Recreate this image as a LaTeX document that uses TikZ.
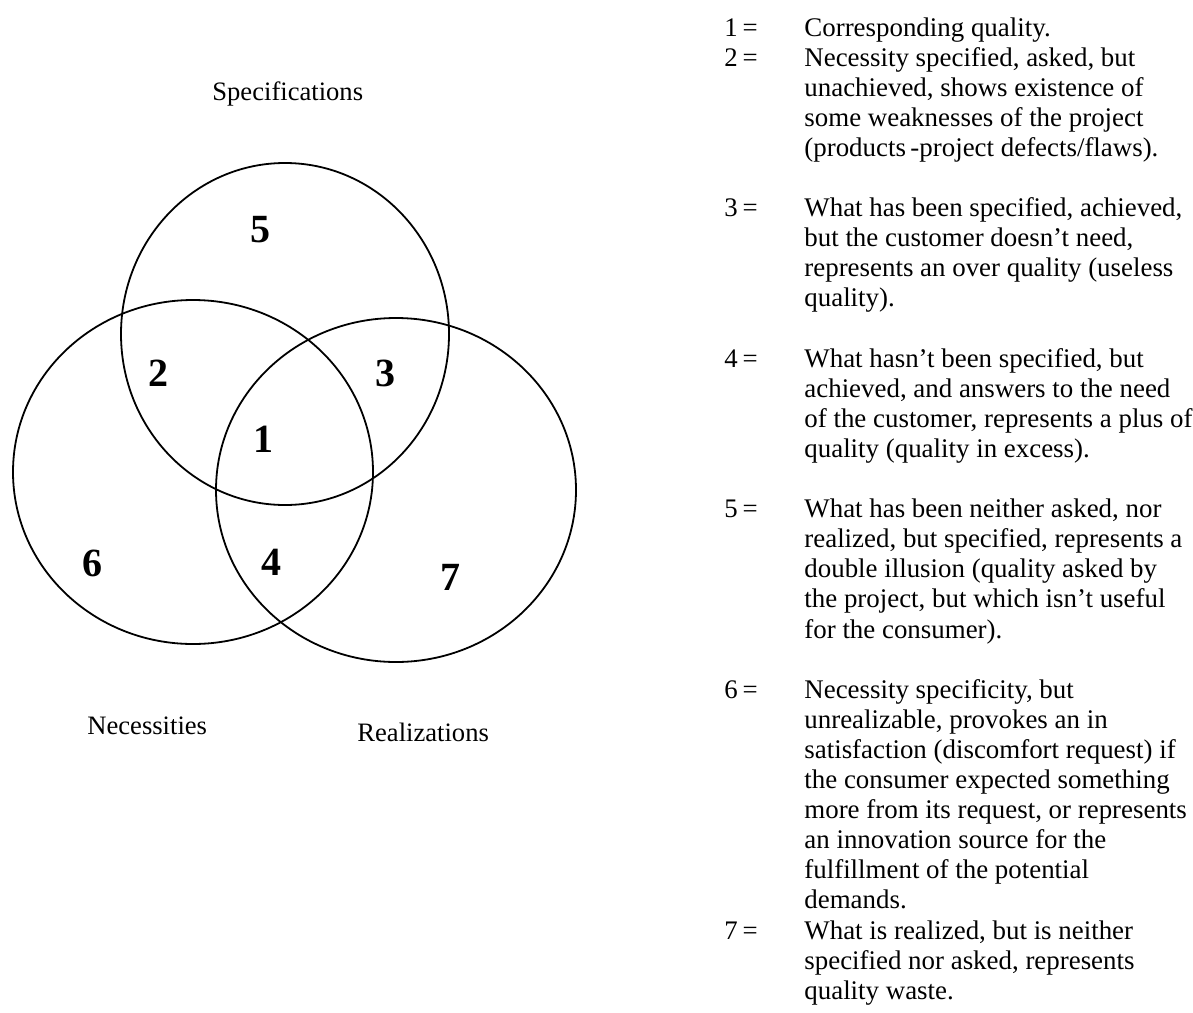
\documentclass[tikz,border=0pt]{standalone}
\usepackage{fontspec}
\setmainfont{Liberation Serif}
\begin{document}
\begin{tikzpicture}[x=0.5pt,y=-0.5pt,
  set/.style={draw=black,line width=0.9pt},
  region/.style={font=\fontsize{20}{24}\selectfont\bfseries,inner sep=0pt},
  setname/.style={font=\fontsize{13.3}{15}\selectfont,inner sep=0pt,anchor=base west},
  keylabel/.style={font=\fontsize{13.4}{15}\selectfont,inner sep=0pt,anchor=base west},
  desc/.style={font=\fontsize{13.45}{15}\selectfont,inner sep=0pt,anchor=base west}]
\useasboundingbox (0,0) rectangle (1193,1012);
\fill[white] (0,0) rectangle (1193,1012);

% the three sets
\draw[set] (285,334) ellipse [x radius=164, y radius=171];
\draw[set] (193,472) ellipse [x radius=180, y radius=172];
\draw[set] (396,490) ellipse [x radius=180, y radius=172];

% set names
\node[setname] (spec) at (212,100) {Specifications};
\node[setname] (need) at (87,734) {Necessities};
\node[setname] (real) at (357,741) {Realizations};

% region numbers
\node[region] (r5) at (260,230) {5};
\node[region] (r2) at (158,373) {2};
\node[region] (r3) at (385,373) {3};
\node[region] (r1) at (263,439) {1};
\node[region] (r6) at (92,563) {6};
\node[region] (r4) at (271,562) {4};
\node[region] (r7) at (450,577) {7};

% legend: keys
\foreach \k/\n in {0/1,1/2,6/3,11/4,16/5,22/6,30/7}
  \node[keylabel] (key\n) at (724,{36+30.1*\k}) {\n\hspace{0.18em}=};

% legend: descriptions, one node per line
\foreach \k/\txt in {
  0/{Corresponding quality.},
  1/{Necessity specified, asked, but},
  2/{unachieved, shows existence of},
  3/{some weaknesses of the project},
  4/{(products\,-project defects/flaws).},
  6/{What has been specified, achieved,},
  7/{but the customer doesn’t need,},
  8/{represents an over quality (useless},
  9/{quality).},
  11/{What hasn’t been specified, but},
  12/{achieved, and answers to the need},
  13/{of the customer, represents a plus of},
  14/{quality (quality in excess).},
  16/{What has been neither asked, nor},
  17/{realized, but specified, represents a},
  18/{double illusion (quality asked by},
  19/{the project, but which isn’t useful},
  20/{for the consumer).},
  22/{Necessity specificity, but},
  23/{unrealizable, provokes an in},
  24/{satisfaction (discomfort request) if},
  25/{the consumer expected something},
  26/{more from its request, or represents},
  27/{an innovation source for the},
  28/{fulfillment of the potential},
  29/{demands.},
  30/{What is realized, but is neither},
  31/{specified nor asked, represents},
  32/{quality waste.}}
  \node[desc] (line\k) at (804,{36+30.1*\k}) {\txt};
\end{tikzpicture}
\end{document}
